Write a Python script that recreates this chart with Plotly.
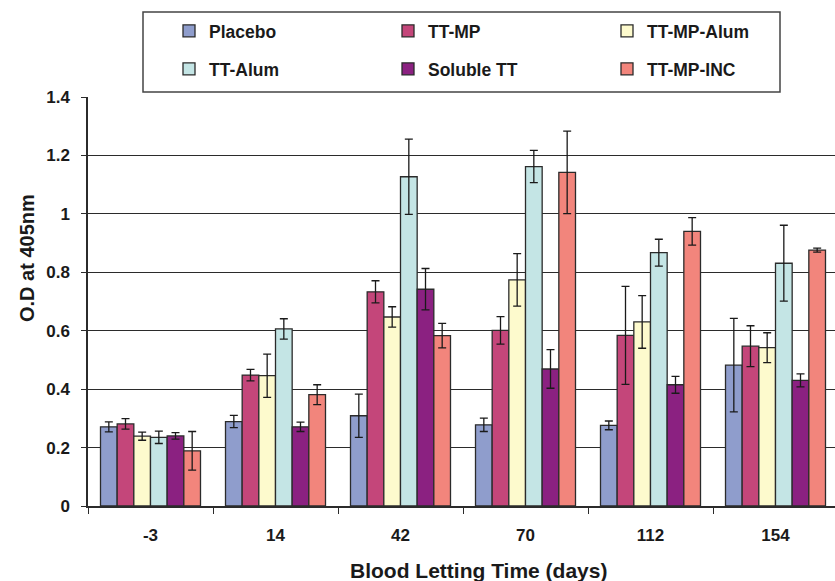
import plotly.graph_objects as go

days = ["-3", "14", "42", "70", "112", "154"]
series_names = ["Placebo", "TT-MP", "TT-MP-Alum", "TT-Alum", "Soluble TT", "TT-MP-INC"]

placebo = [0.271, 0.289, 0.309, 0.278, 0.276, 0.482]
tt_mp = [0.281, 0.448, 0.733, 0.601, 0.584, 0.547]
tt_mp_alum = [0.239, 0.446, 0.647, 0.774, 0.630, 0.542]
tt_alum = [0.235, 0.606, 1.127, 1.162, 0.867, 0.831]
soluble_tt = [0.240, 0.271, 0.742, 0.469, 0.415, 0.430]
tt_mp_inc = [0.189, 0.381, 0.583, 1.142, 0.940, 0.876]

placebo_err = [0.017, 0.021, 0.074, 0.023, 0.015, 0.160]
tt_mp_err = [0.018, 0.020, 0.038, 0.047, 0.168, 0.070]
tt_mp_alum_err = [0.014, 0.074, 0.035, 0.090, 0.090, 0.051]
tt_alum_err = [0.021, 0.035, 0.129, 0.055, 0.046, 0.130]
soluble_tt_err = [0.011, 0.016, 0.071, 0.066, 0.029, 0.022]
tt_mp_inc_err = [0.066, 0.034, 0.042, 0.141, 0.047, 0.007]

y_ticks = [0, 0.2, 0.4, 0.6, 0.8, 1.0, 1.2, 1.4]
grid_vals = [0.2, 0.4, 0.6, 0.8, 1.0, 1.2]

values = [placebo, tt_mp, tt_mp_alum, tt_alum, soluble_tt, tt_mp_inc]
errors = [placebo_err, tt_mp_err, tt_mp_alum_err, tt_alum_err, soluble_tt_err, tt_mp_inc_err]
colors = ["#8f9dcc", "#c4467a", "#fdfacd", "#c4e5e5", "#8b2181", "#f2857c"]

FONT = "Liberation Sans, Arial, Helvetica, sans-serif"
DARK = "#2b2b2b"
TXT = "#1a1a1a"

fig = go.Figure()
for i, (name, vals, errs, col) in enumerate(zip(series_names, values, errors, colors)):
    fig.add_trace(go.Bar(
        name=name, x=days, y=vals,
        marker=dict(color=col, line=dict(color=DARK, width=1.3)),
        error_y=dict(type="data", array=errs, visible=True, color="#1a1a1a", thickness=1.3, width=4),
        legend="legend" if i < 3 else "legend2",
    ))

# helper trace for the gridline axis
fig.add_trace(go.Scatter(x=[], y=[], yaxis="y2", showlegend=False, hoverinfo="skip"))

legend_common = dict(
    orientation="h", xanchor="left", yanchor="middle",
    entrywidth=174, entrywidthmode="pixels",
    font=dict(family=FONT, size=17.5, color=TXT, weight="bold"),
    bgcolor="rgba(0,0,0,0)", borderwidth=0, itemclick=False,
)

fig.update_layout(
    width=835, height=581,
    margin=dict(l=88, r=0, t=97, b=75),
    paper_bgcolor="white", plot_bgcolor="white",
    font=dict(family=FONT, color=TXT),
    barmode="group", bargap=0.2, bargroupgap=0,
    showlegend=True,
    legend=dict(x=(169 - 88) / 747, y=(506 - 31) / 409, **legend_common),
    legend2=dict(x=(169 - 88) / 747, y=(506 - 69) / 409, **legend_common),
    xaxis=dict(
        type="category", range=[-0.5, -0.5 + 747 / 125],
        showline=True, linecolor=DARK, linewidth=1.5,
        ticks="outside", tickson="boundaries", ticklen=6, tickcolor=DARK, tickwidth=1.3,
        showgrid=False, zeroline=False,
        tickfont=dict(family=FONT, size=17, color=TXT, weight="bold"),
        ticklabelstandoff=13,
    ),
    yaxis=dict(
        range=[0, 1.4], tickvals=y_ticks,
        showline=True, linecolor=DARK, linewidth=1.5,
        ticks="outside", ticklen=5, tickcolor=DARK, tickwidth=1.3,
        showgrid=False, zeroline=False,
        tickfont=dict(family=FONT, size=17, color=TXT, weight="bold"),
        ticklabelstandoff=8,
    ),
    yaxis2=dict(
        overlaying="y", range=[0, 1.4], tickvals=grid_vals,
        showticklabels=False, ticks="", showline=False, zeroline=False,
        showgrid=True, gridcolor=DARK, gridwidth=1.3,
    ),
    shapes=[dict(
        type="rect", xref="paper", yref="paper",
        x0=(143 - 88) / 747, x1=(780 - 88) / 747,
        y0=(506 - 92) / 409, y1=(506 - 12) / 409,
        line=dict(color="#444444", width=1.5), fillcolor="rgba(0,0,0,0)",
    )],
    annotations=[
        dict(
            text="Blood Letting Time (days)", xref="paper", yref="paper",
            x=(479 - 88) / 747, y=(506 - 557) / 409, xanchor="center", yanchor="top",
            showarrow=False, font=dict(family=FONT, size=21, color=TXT, weight="bold"),
        ),
        dict(
            text="O.D at 405nm", xref="paper", yref="paper", textangle=-90,
            x=(27 - 88) / 747, y=(506 - 258) / 409, xanchor="center", yanchor="middle",
            showarrow=False, font=dict(family=FONT, size=20, color=TXT, weight="bold"),
        ),
    ],
)

fig.write_html("out.html")
